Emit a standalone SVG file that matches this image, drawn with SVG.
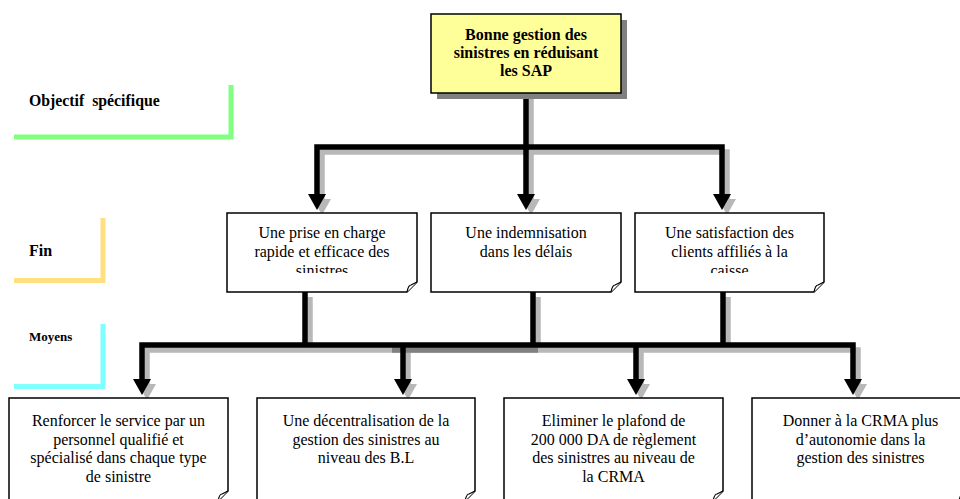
<svg xmlns="http://www.w3.org/2000/svg" width="960" height="499" viewBox="0 0 960 499">
<style>
text{font-family:"Liberation Serif","Times New Roman",serif;fill:#000}
.t{font-size:16px;text-anchor:middle}
.b{font-weight:bold}
.lab{font-weight:bold}
.box{fill:#fff;stroke:#000;stroke-width:1.5}
.flap{fill:#fff;stroke:#000;stroke-width:1.2;stroke-linejoin:round}
.ln{fill:none;stroke:#000;stroke-width:5.5;stroke-linejoin:miter}
.sh{fill:none;stroke:#b8b8b8;stroke-width:5.5;stroke-linejoin:miter}
.ah{fill:#000}
.ahs{fill:#b8b8b8}
.br{fill:none;stroke-width:5}
</style>
<defs>
<clipPath id="clipFin"><rect x="0" y="200" width="960" height="73"/></clipPath>
</defs>

<g id="legend-objectif">
<path class="br" stroke="#80ff80" d="M14,137 H231 V85"/>
<text class="lab" x="29" y="106" font-size="15.8px" xml:space="preserve">Objectif  spécifique</text>
</g>
<g id="legend-fin">
<path class="br" stroke="#ffe080" d="M14,280.5 H103 V218"/>
<text class="lab" x="29" y="256" font-size="16px">Fin</text>
</g>
<g id="legend-moyens">
<path class="br" stroke="#80ffff" d="M14,386.5 H103 V324"/>
<text class="lab" x="29" y="341" font-size="13px">Moyens</text>
</g>

<g id="connectors">
<g transform="translate(5,5)">
<path class="sh" d="M526,93 V194 M317,194 V147 H722 V194"/>
<polygon class="ahs" points="308,194 326,194 317,210"/>
<polygon class="ahs" points="517,194 535,194 526,210"/>
<polygon class="ahs" points="713,194 731,194 722,210"/>
<path class="sh" d="M305,292 V345 M533,292 V345 M723,292 V345 M142,379 V345 H853 V379 M403,345 V379 M636,345 V379"/>
<path fill="none" stroke="#808080" stroke-width="5.5" d="M387,345 H533"/>
<polygon class="ahs" points="133,379 151,379 142,395"/>
<polygon class="ahs" points="394,379 412,379 403,395"/>
<polygon class="ahs" points="627,379 645,379 636,395"/>
<polygon class="ahs" points="844,379 862,379 853,395"/>
</g>
<path class="ln" d="M526,93 V194 M317,194 V147 H722 V194"/>
<polygon class="ah" points="308,194 326,194 317,210"/>
<polygon class="ah" points="517,194 535,194 526,210"/>
<polygon class="ah" points="713,194 731,194 722,210"/>
<path class="ln" d="M305,292 V347 M533,292 V347 M723,292 V347 M142,379 V345 H853 V379 M403,345 V379 M636,345 V379"/>
<polygon class="ah" points="133,379 151,379 142,395"/>
<polygon class="ah" points="394,379 412,379 403,395"/>
<polygon class="ah" points="627,379 645,379 636,395"/>
<polygon class="ah" points="844,379 862,379 853,395"/>
</g>

<g id="objectif">
<rect x="437" y="20" width="190" height="79" fill="#808080"/>
<rect x="431" y="14" width="190" height="79" fill="#ffff99" stroke="#000" stroke-width="1.5"/>
<text class="t b" x="526" y="40">Bonne gestion des</text>
<text class="t b" x="526" y="58">sinistres en réduisant</text>
<text class="t b" x="526" y="76">les SAP</text>
</g>

<g id="fin1">
<path class="box" d="M227,213 H417 V282 L407,292 H227 Z"/>
<path class="flap" d="M407,292 C408,287 409,285 411,285 L417,282"/>
<g clip-path="url(#clipFin)">
<text class="t" x="322" y="238">Une prise en charge</text>
<text class="t" x="322" y="257">rapide et efficace des</text>
<text class="t" x="322" y="276">sinistres</text>
</g>
</g>
<g id="fin2">
<path class="box" d="M431,213 H621 V282 L611,292 H431 Z"/>
<path class="flap" d="M611,292 C612,287 613,285 615,285 L621,282"/>
<text class="t" x="526" y="238">Une indemnisation</text>
<text class="t" x="526" y="257">dans les délais</text>
</g>
<g id="fin3">
<path class="box" d="M635,213 H824 V282 L814,292 H635 Z"/>
<path class="flap" d="M814,292 C815,287 816,285 818,285 L824,282"/>
<g clip-path="url(#clipFin)">
<text class="t" x="729.5" y="238">Une satisfaction des</text>
<text class="t" x="729.5" y="257">clients affiliés à la</text>
<text class="t" x="729.5" y="276">caisse</text>
</g>
</g>

<g id="moyen1">
<path class="box" d="M9,398 H228 V491 L218,501 H9 Z"/>
<path class="flap" d="M218,501 C219,496 220,494 222,494 L228,491"/>
<text class="t" x="118.5" y="426">Renforcer le service par un</text>
<text class="t" x="118.5" y="444.5">personnel qualifié et</text>
<text class="t" x="118.5" y="463">spécialisé dans chaque type</text>
<text class="t" x="118.5" y="481.5">de sinistre</text>
</g>
<g id="moyen2">
<path class="box" d="M257,398 H475 V491 L465,501 H257 Z"/>
<path class="flap" d="M465,501 C466,496 467,494 469,494 L475,491"/>
<text class="t" x="366" y="426">Une décentralisation de la</text>
<text class="t" x="366" y="444.5">gestion des sinistres au</text>
<text class="t" x="366" y="463">niveau des B.L</text>
</g>
<g id="moyen3">
<path class="box" d="M504,398 H723 V491 L713,501 H504 Z"/>
<path class="flap" d="M713,501 C714,496 715,494 717,494 L723,491"/>
<text class="t" x="613.5" y="426">Eliminer le plafond de</text>
<text class="t" x="613.5" y="444.5">200 000 DA de règlement</text>
<text class="t" x="613.5" y="463">des sinistres au niveau de</text>
<text class="t" x="613.5" y="481.5">la CRMA</text>
</g>
<g id="moyen4">
<path class="box" d="M752,398 H969 V491 L959,501 H752 Z"/>
<path class="flap" d="M959,501 C960,496 961,494 963,494 L969,491"/>
<text class="t" x="860.5" y="426">Donner à la CRMA plus</text>
<text class="t" x="860.5" y="444.5">d’autonomie dans la</text>
<text class="t" x="860.5" y="463">gestion des sinistres</text>
</g>
</svg>
